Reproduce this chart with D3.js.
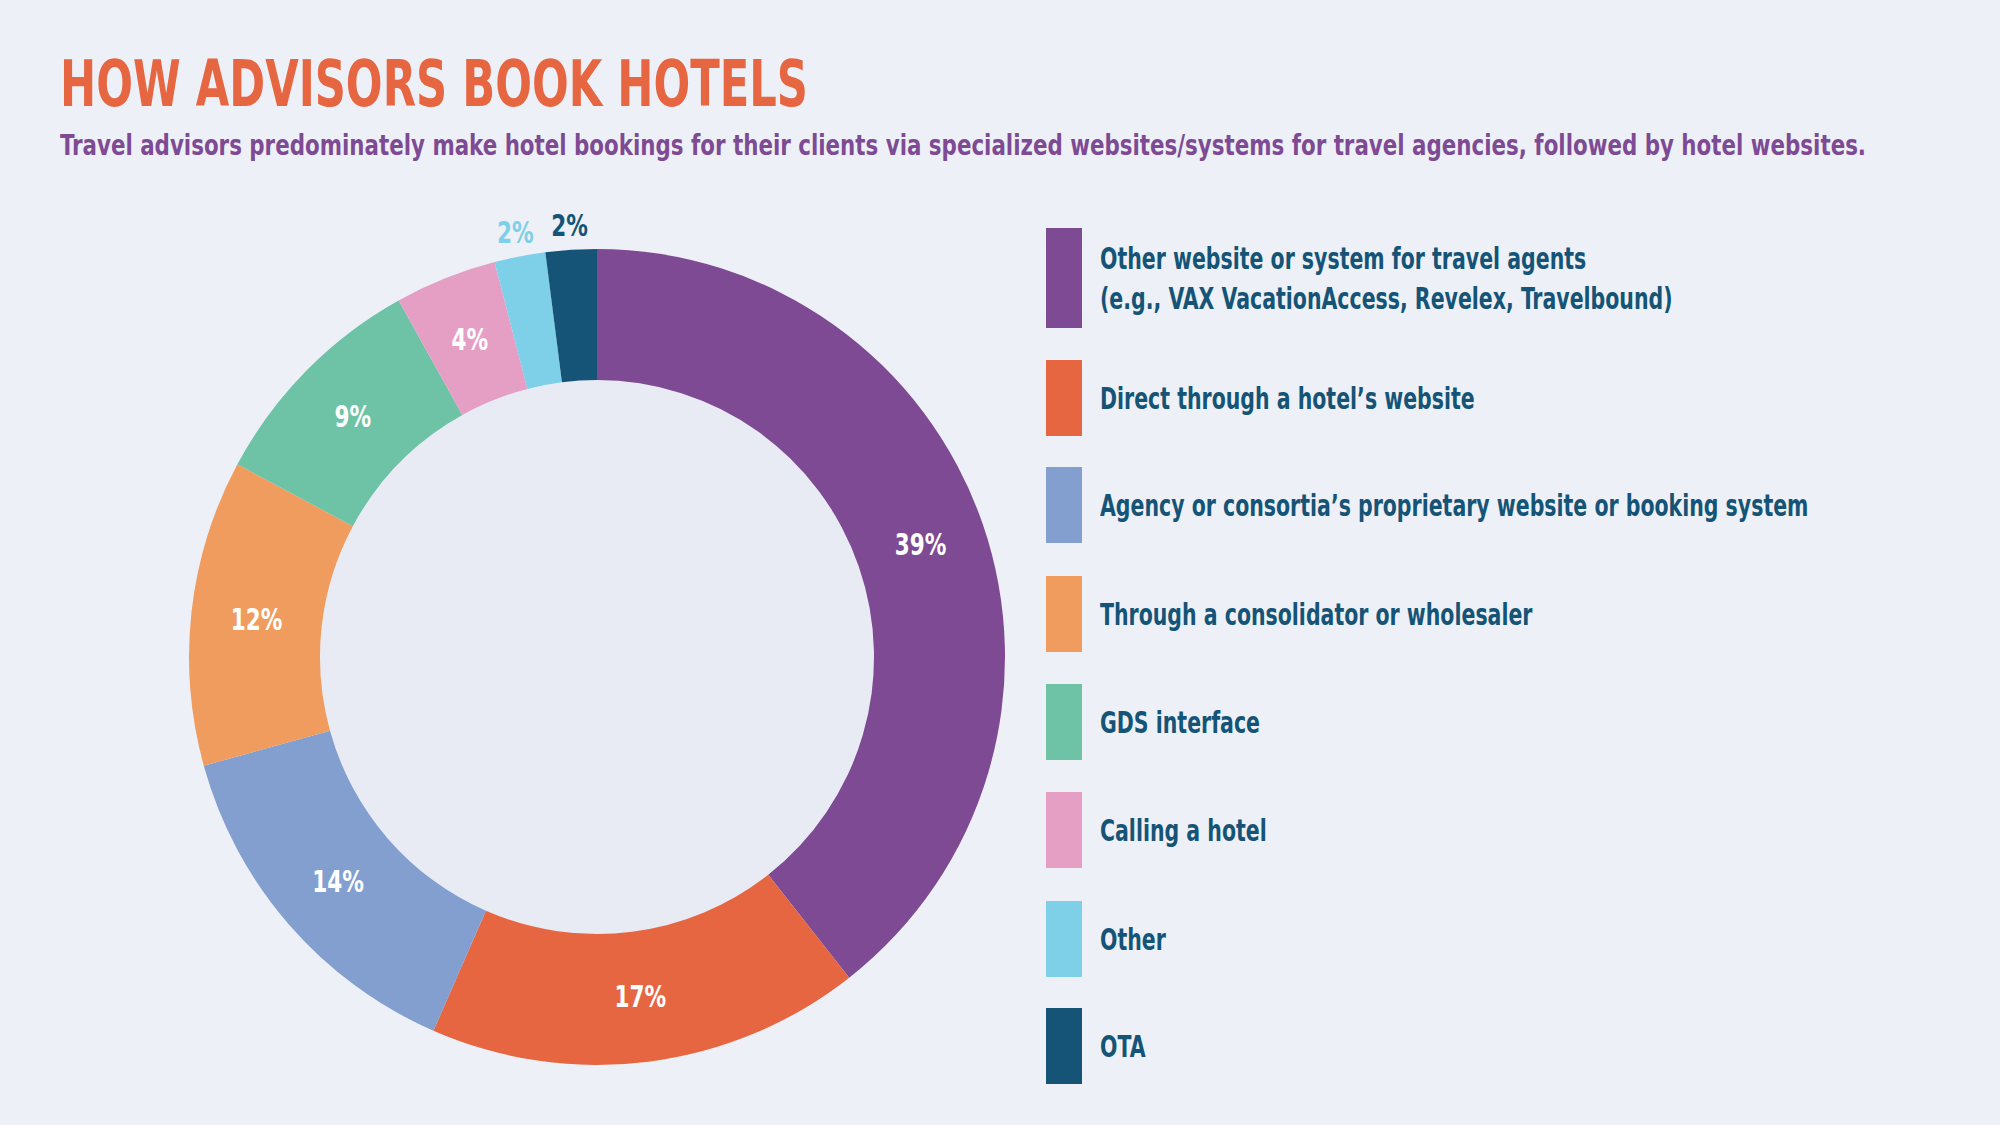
<!DOCTYPE html>
<html><head><meta charset="utf-8">
<script src="https://cdn.jsdelivr.net/npm/d3@7"></script>
<style>
body{margin:0;background:#edf1f7;}
svg{display:block;}
text{font-family:"Liberation Sans Narrow","DejaVu Sans Condensed","Roboto",sans-serif;font-weight:bold;}
</style></head>
<body><div id="chart"></div>
<script>
// data
var categories = ["Other website or system for travel agents|(e.g., VAX VacationAccess, Revelex, Travelbound)",
  "Direct through a hotel’s website",
  "Agency or consortia’s proprietary website or booking system",
  "Through a consolidator or wholesaler",
  "GDS interface",
  "Calling a hotel",
  "Other",
  "OTA"];
var shares = [39, 17, 14, 12, 9, 4, 2, 2];
var colors = ["#7e4a94", "#e66642", "#829fd0", "#ef9c5e", "#6ec2a5", "#e59fc5", "#7ecfe8", "#155476"];

var width = 2000, height = 1125;
var svg = d3.select("#chart").append("svg").attr("width", width).attr("height", height);
svg.append("rect").attr("width", width).attr("height", height).attr("fill", "#edf1f7");

svg.append("text").attr("x", 60).attr("y", 106).attr("fill", "#e66642")
  .style("font-size", "64px").attr("textLength", 748).attr("lengthAdjust", "spacingAndGlyphs")
  .text("HOW ADVISORS BOOK HOTELS");
svg.append("text").attr("x", 60).attr("y", 155).attr("fill", "#7e4a94")
  .style("font-size", "28px").attr("textLength", 1806).attr("lengthAdjust", "spacingAndGlyphs")
  .text("Travel advisors predominately make hotel bookings for their clients via specialized websites/systems for travel agencies, followed by hotel websites.");

var cx = 597, cy = 657, rOut = 408, rIn = 277;
var g = svg.append("g").attr("transform", "translate(" + cx + "," + cy + ")");
g.append("circle").attr("r", rIn).attr("fill", "#e8ebf4");

var pie = d3.pie().sort(null).value(function(d) { return d; });
var arcs = pie(shares);
var arc = d3.arc().innerRadius(rIn).outerRadius(rOut);
g.selectAll("path").data(arcs).enter().append("path")
  .attr("d", arc).attr("fill", function(d, i) { return colors[i]; });

var labelArc = d3.arc().innerRadius((rIn + rOut) / 2).outerRadius((rIn + rOut) / 2);
var outerArc = d3.arc().innerRadius(rOut + 24).outerRadius(rOut + 24);
g.selectAll("text.pct").data(arcs).enter().append("text")
  .attr("class", "pct")
  .attr("transform", function(d) {
    var c = d.data < 3 ? outerArc.centroid(d) : labelArc.centroid(d);
    return "translate(" + c + ") scale(0.8,1)";
  })
  .attr("text-anchor", "middle").attr("dy", "0.35em")
  .attr("fill", function(d, i) { return d.data < 3 ? colors[i] : "#fff"; })
  .style("font-size", "30px")
  .text(function(d) { return d.data + "%"; });

// legend
var rowY = [278, 398, 505, 614, 722, 830, 939, 1046];
var legend = svg.append("g");
categories.forEach(function(c, i) {
  var h = i === 0 ? 100 : 76;
  legend.append("rect").attr("x", 1046).attr("y", rowY[i] - h / 2)
    .attr("width", 36).attr("height", h).attr("fill", colors[i]);
  var lines = c.split("|");
  lines.forEach(function(l, j) {
    var y = rowY[i] + (j - (lines.length - 1) / 2) * 40;
    legend.append("text")
      .attr("transform", "translate(1100," + y + ") scale(0.76,1)")
      .attr("dy", "0.35em").attr("fill", "#155476")
      .style("font-size", "30px").text(l);
  });
});
</script></body></html>
